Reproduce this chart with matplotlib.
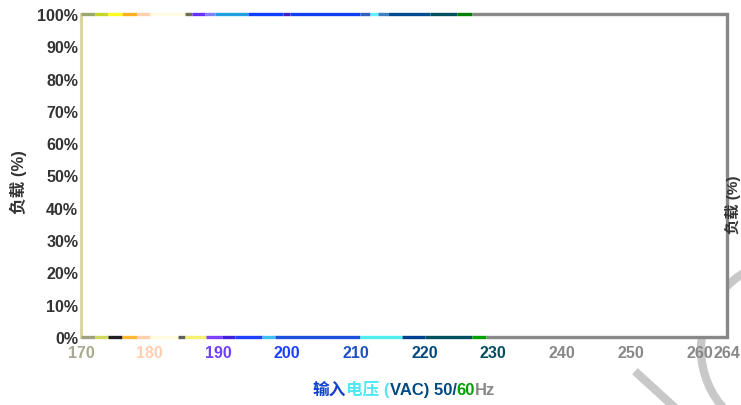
import matplotlib
matplotlib.use("Agg")
import matplotlib.pyplot as plt
from matplotlib.patches import Arc

plt.rcParams['font.family'] = ['Liberation Sans', 'Noto Sans CJK SC', 'DejaVu Sans']

# x axis: input voltage (VAC)
x_ticks = [170, 180, 190, 200, 210, 220, 230, 240, 250, 260, 264]
x_tick_colors = ['#a8a890', '#ffd0b0', '#7040ff', '#2040ff', '#2050c0',
                 '#004a80', '#005060', '#888888', '#888888', '#888888', '#888888']
y_ticks = [0, 10, 20, 30, 40, 50, 60, 70, 80, 90, 100]

# segments along the 100% load line: breakpoints and colours
top_edges = [170, 172.0, 173.9, 176.0, 178.1, 180.0, 185.1, 186.2, 188.0, 189.5,
             194.3, 199.4, 200.4, 210.6, 212.1, 213.2, 214.7, 220.8, 224.7, 226.9, 264]
top_colors = ['#9aa870', '#c8d62a', '#ffff20', '#ffb020', '#ffd0b0', '#fffbe0',
              '#707050', '#6a30ff', '#8080ff', '#20a0e0', '#1040ff', '#4020c0',
              '#1040f0', '#3060c0', '#60f0ff', '#4080c0', '#004a90', '#005060',
              '#008000', '#888888']

# segments along the 0% load line
bottom_edges = [170, 172.0, 173.9, 176.0, 178.1, 180.0, 184.1, 185.1, 188.2, 190.5,
                192.4, 196.3, 198.2, 210.6, 216.7, 220.1, 226.9, 228.9, 264]
bottom_colors = ['#a0a080', '#d0d860', '#202020', '#ffb830', '#ffd0b0', '#fffce0',
                 '#606060', '#f8f070', '#8040ff', '#4020e0', '#2040ff', '#40c0f0',
                 '#2050e0', '#50f0f0', '#004090', '#005060', '#00a000', '#888888']

xlabel_parts = [('输入', '#1040d0'), ('电压 (', '#50e8f0'), ('VAC) 50/', '#004a80'),
                ('60', '#00a000'), ('Hz', '#888888')]

fig = plt.figure(figsize=(7.41, 4.06), dpi=100)
ax = fig.add_axes([81 / 741, 68 / 406, 646 / 741, 323 / 406])
ax.set_xlim(170, 264)
ax.set_ylim(0, 100)

ax.hlines([100] * len(top_colors), top_edges[:-1], top_edges[1:],
          colors=top_colors, linewidth=2.4, clip_on=False, zorder=5)
ax.hlines([0] * len(bottom_colors), bottom_edges[:-1], bottom_edges[1:],
          colors=bottom_colors, linewidth=2.4, clip_on=False, zorder=5)

for side in ['top', 'bottom']:
    ax.spines[side].set_visible(False)
ax.spines['left'].set_color('#d8d8a0')
ax.spines['left'].set_linewidth(2.2)
ax.spines['right'].set_color('#888888')
ax.spines['right'].set_linewidth(2.4)

ax.set_xticks(x_ticks)
ax.set_xticklabels([str(v) for v in x_ticks], fontsize=11.5, fontweight='bold')
for lab, c in zip(ax.get_xticklabels(), x_tick_colors):
    lab.set_color(c)
ax.set_yticks(y_ticks)
ax.set_yticklabels([f'{v}%' for v in y_ticks], fontsize=11.5, fontweight='bold',
                   color='#333333')
ax.tick_params(axis='y', length=0, pad=2)
ax.tick_params(axis='x', length=0, pad=6)

fig.text(18 / 741, 1 - 182 / 406, '负载 (%)', rotation=90, fontsize=12,
         fontweight='bold', color='#333333', ha='center', va='center')
fig.text(741 / 741, 1 - 205 / 406, '负载 (%)', rotation=90, fontsize=11,
         fontweight='bold', color='#333333', ha='right', va='center')

# multi-coloured x axis title
fig.canvas.draw()
renderer = fig.canvas.get_renderer()
pieces = []
total = 0
for s, c in xlabel_parts:
    t = fig.text(0, 0, s, fontsize=12, fontweight='bold', color=c)
    w = t.get_window_extent(renderer).width
    pieces.append((t, w))
    total += w
x0 = (404 - total / 2) / 741
for t, w in pieces:
    t.set_position((x0, 11 / 406))
    x0 += w / 741

# faint watermark strokes in the corner
fig.add_artist(Arc((790 / 741, 1 - 350 / 406), 178 / 741, 178 / 406,
                   transform=fig.transFigure, theta1=90, theta2=270,
                   color='#c8c8c8', linewidth=6, zorder=0))
fig.add_artist(plt.Line2D([638 / 741, 672 / 741], [31 / 406, 0],
                          transform=fig.transFigure, color='#c8c8c8',
                          linewidth=6, zorder=0))

plt.savefig('out.png', dpi=100)
